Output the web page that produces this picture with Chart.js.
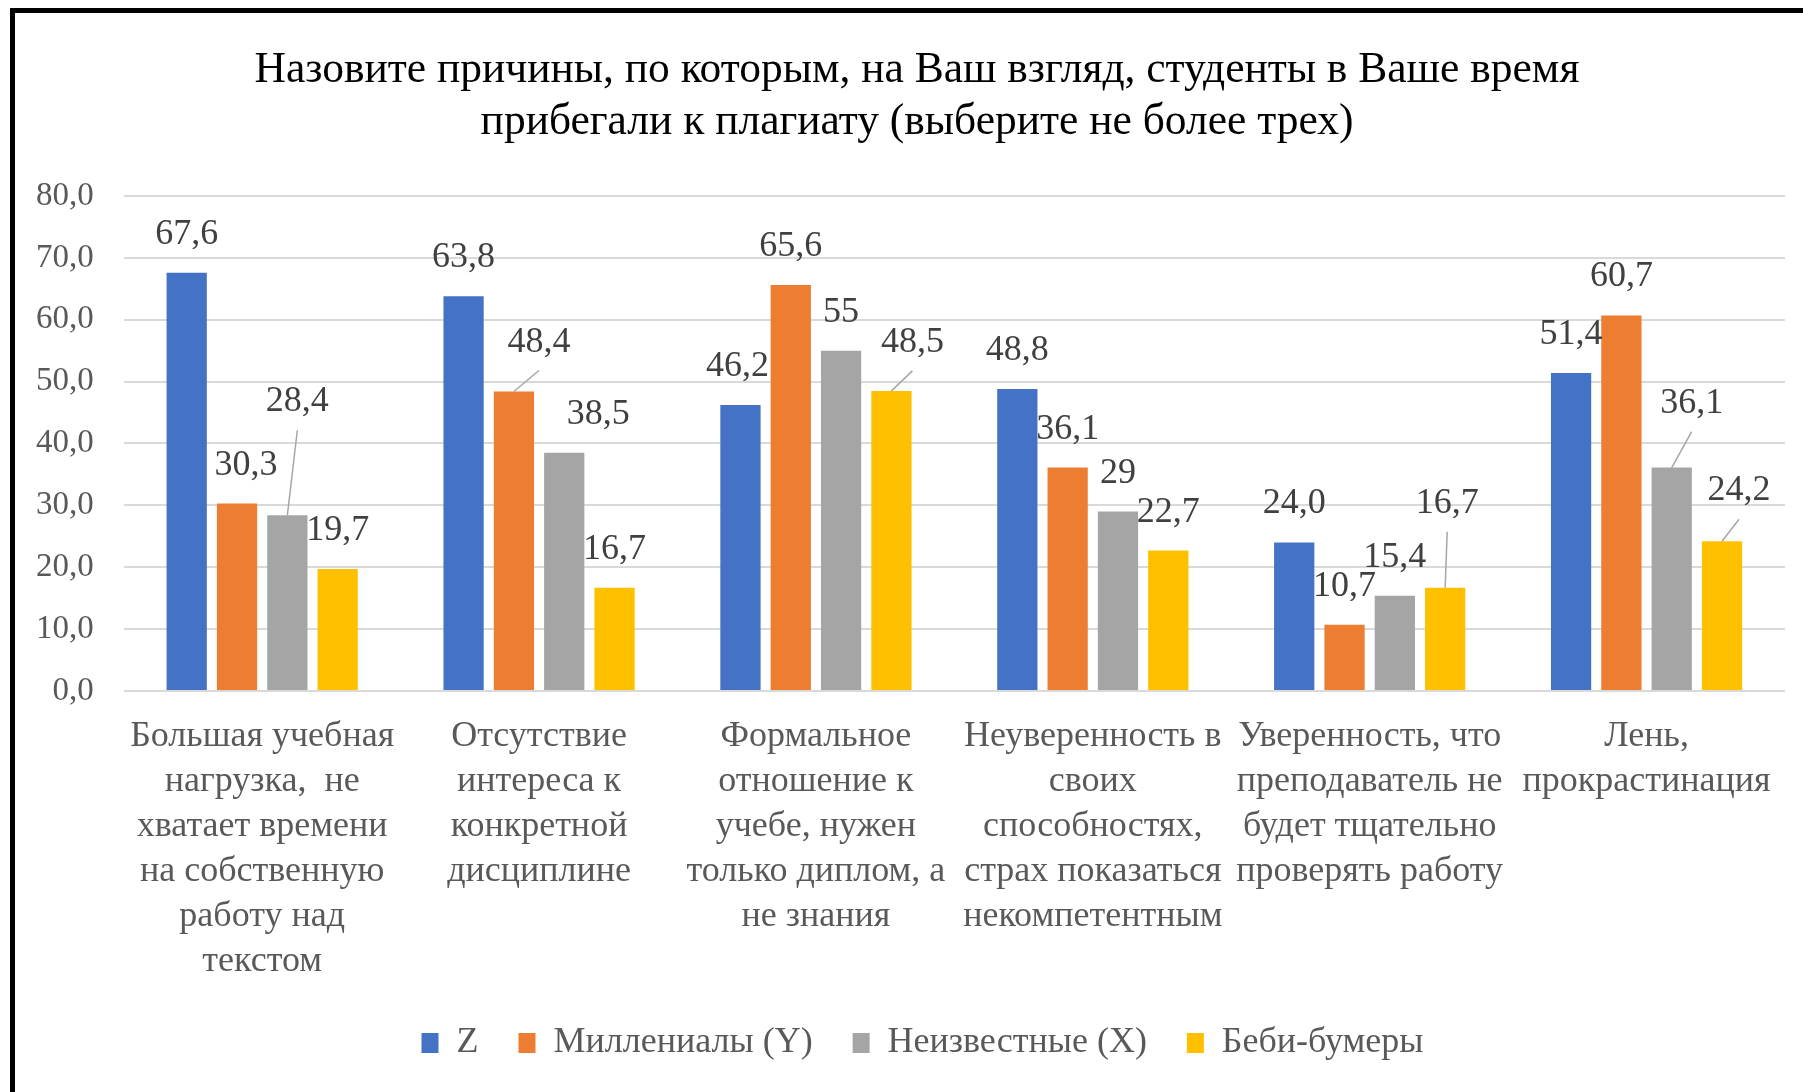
<!DOCTYPE html>
<html lang="ru">
<head>
  <meta charset="UTF-8">
  <title>Причины плагиата</title>
  <script src="https://cdn.jsdelivr.net/npm/chart.js"></script>
  <style>
    html, body {
      margin: 0;
      padding: 0;
      background: #fff;
      overflow: hidden;
    }
    .chart-box {
      position: absolute;
      left: 0;
      top: 0;
      width: 1838px;
      height: 1092px;
    }
    .frame {
      position: absolute;
      left: 10px;
      top: 8px;
      width: 1900px;
      height: 1200px;
      border-top: 5px solid #000;
      border-left: 5px solid #000;
      pointer-events: none;
    }
  </style>
</head>
<body>
  <div class="chart-box"><canvas id="plagChart"></canvas></div>
  <div class="frame"></div>

  <script>
    const categories = [
      ['Большая учебная', 'нагрузка,  не', 'хватает времени', 'на собственную', 'работу над', 'текстом'],
      ['Отсутствие', 'интереса к', 'конкретной', 'дисциплине'],
      ['Формальное', 'отношение к', 'учебе, нужен', 'только диплом, а', 'не знания'],
      ['Неуверенность в', 'своих', 'способностях,', 'страх показаться', 'некомпетентным'],
      ['Уверенность, что', 'преподаватель не', 'будет тщательно', 'проверять работу'],
      ['Лень,', 'прокрастинация']
    ];
    const seriesNames = ['Z', 'Миллениалы (Y)', 'Неизвестные (X)', 'Беби-бумеры'];

    const genZ    = [67.6, 63.8, 46.2, 48.8, 24.0, 51.4];
    const genY    = [30.3, 48.4, 65.6, 36.1, 10.7, 60.7];
    const genX    = [28.4, 38.5, 55, 29, 15.4, 36.1];
    const boomers = [19.7, 16.7, 48.5, 22.7, 16.7, 24.2];

    // label texts as printed on the chart (some without decimals)
    const labelsZ       = ['67,6', '63,8', '46,2', '48,8', '24,0', '51,4'];
    const labelsY       = ['30,3', '48,4', '65,6', '36,1', '10,7', '60,7'];
    const labelsX       = ['28,4', '38,5', '55', '29', '15,4', '36,1'];
    const labelsBoomers = ['19,7', '16,7', '48,5', '22,7', '16,7', '24,2'];

    const yMin = 0, yMax = 80, yStep = 10;

    const colors = ['#4472C4', '#ED7D31', '#A5A5A5', '#FFC000'];
    const serif = '"Liberation Serif", "Times New Roman", serif';

    // label placement relative to bar top: [dx, dy, leader line]
    const labelShift = {
      '1-0': [9, -37, false],
      '2-0': [10, -112, true],
      '1-1': [25, -48, true],
      '2-1': [34, -37, false],
      '0-2': [-3, -37, false],
      '3-2': [21, -47, true],
      '3-4': [2, -83, true],
      '2-5': [20, -63, true],
      '3-5': [17, -49, true]
    };

    const seriesValues = [genZ, genY, genX, boomers];
    const seriesLabels = [labelsZ, labelsY, labelsX, labelsBoomers];

    const valueLabels = {
      id: 'valueLabels',
      afterDatasetsDraw(chart) {
        const ctx = chart.ctx;
        ctx.save();
        ctx.font = '36px ' + serif;
        ctx.textAlign = 'center';
        ctx.textBaseline = 'alphabetic';
        chart.data.datasets.forEach((ds, i) => {
          chart.getDatasetMeta(i).data.forEach((bar, j) => {
            const s = labelShift[i + '-' + j] || [0, -37, false];
            const lx = bar.x + s[0];
            const ly = bar.y + s[1];
            if (s[2]) {
              ctx.strokeStyle = '#a6a6a6';
              ctx.lineWidth = 1.5;
              ctx.beginPath();
              ctx.moveTo(bar.x, bar.y);
              ctx.lineTo(lx, ly + 27);
              ctx.stroke();
            }
            ctx.fillStyle = '#404040';
            ctx.fillText(seriesLabels[i][j], lx, ly + 8);
          });
        });
        ctx.restore();
      }
    };

    // the source picture is cropped on the right, so title and legend sit right of the plot centre
    const centreShift = {
      id: 'centreShift',
      afterLayout(chart) {
        chart.titleBlock.left += 43;
        chart.legend.left += 54;
      }
    };

    new Chart(document.getElementById('plagChart'), {
      type: 'bar',
      data: {
        labels: categories,
        datasets: seriesNames.map((name, i) => ({
          label: name,
          data: seriesValues[i],
          backgroundColor: colors[i],
          borderWidth: 0,
          categoryPercentage: 0.727,
          barPercentage: 0.8
        }))
      },
      options: {
        responsive: true,
        maintainAspectRatio: false,
        animation: false,
        layout: {
          padding: { top: 0, left: 6, right: 53, bottom: 21 }
        },
        plugins: {
          title: {
            display: true,
            text: ['Назовите причины, по которым, на Ваш взгляд, студенты в Ваше время',
                   'прибегали к плагиату (выберите не более трех)'],
            color: '#000',
            font: { family: serif, size: 43.5, weight: 'normal', lineHeight: 1.195 },
            padding: { top: 45, bottom: 47 }
          },
          legend: {
            position: 'bottom',
            labels: {
              color: '#595959',
              font: { family: serif, size: 36, lineHeight: 1.2 },
              boxWidth: 17,
              boxHeight: 20,
              padding: 40
            }
          },
          tooltip: { enabled: false }
        },
        scales: {
          x: {
            grid: { display: false },
            border: { display: false },
            ticks: {
              color: '#595959',
              font: { family: serif, size: 36, lineHeight: 1.25 },
              padding: 15,
              maxRotation: 0,
              autoSkip: false
            },
            afterFit: scale => { scale.height = 294; }
          },
          y: {
            min: yMin,
            max: yMax,
            grid: { color: '#d9d9d9', lineWidth: 2, drawTicks: false },
            border: { display: false },
            ticks: {
              stepSize: yStep,
              color: '#595959',
              font: { family: serif, size: 33 },
              padding: 30,
              callback: v => v.toFixed(1).replace('.', ',')
            }
          }
        }
      },
      plugins: [valueLabels, centreShift]
    });
  </script>
</body>
</html>
